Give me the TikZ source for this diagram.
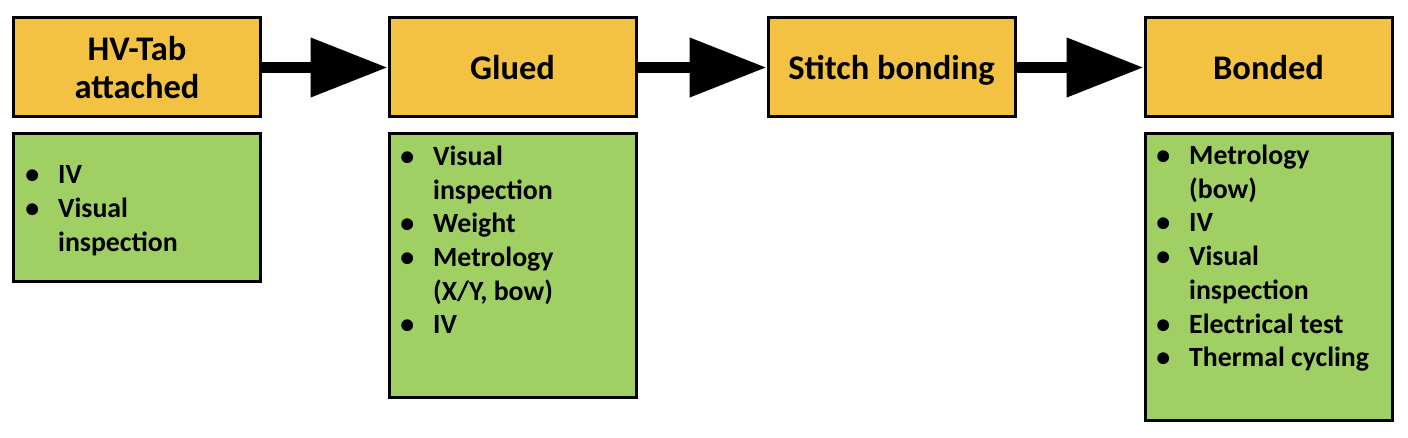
\documentclass[tikz,border=0pt]{standalone}
\usepackage{fontspec}
\setmainfont{Carlito}
\usetikzlibrary{arrows.meta}
\definecolor{gold}{RGB}{243,194,66}
\definecolor{leaf}{RGB}{160,207,99}
\newcommand{\bul}{\makebox[26pt][l]{\makebox[0pt][c]{\textbullet}}}
\newcommand{\cont}{\hspace*{26pt}}
\begin{document}
\begin{tikzpicture}[x=1pt,y=-1pt,
  stagebox/.style={draw=black, line width=3pt, fill=gold, minimum width=247pt, minimum height=99pt,
    font=\fontsize{34.5}{38}\selectfont\bfseries, inner sep=0pt,
    text height=25pt, text depth=0pt},
  testbox/.style={draw=black, line width=3pt, fill=leaf, minimum width=247pt, inner sep=0pt},
  testlist/.style={font=\fontsize{27.8}{33.7}\selectfont\bfseries, align=left, inner sep=0pt, anchor=base west},
  flow/.style={line width=11pt, -{Triangle[length=77pt,width=57pt]}}]
\useasboundingbox (0,0) rectangle (1408,438);

\node[stagebox, text height=62pt] (s1) at (137,67.5) {\begin{tabular}[b]{@{}c@{}}HV-Tab\\attached\end{tabular}};
\node[stagebox] (s2) at (512.5,67.5) {Glued};
\node[stagebox] (s3) at (891.5,67.5) {Stitch bonding};
\node[stagebox] (s4) at (1268.5,67.5) {Bonded};

\node[testbox, minimum height=148pt] (t1) at (137,208) {};
\node[testbox, minimum height=263pt] (t2) at (512.5,265.5) {};
\node[testbox, minimum height=286pt] (t4) at (1268.5,277) {};

\node[testlist] (l1) at (32,251.4) {\bul IV\\\bul Visual\\\cont inspection};
\node[testlist] (l2) at (407,334) {\bul Visual\\\cont inspection\\\bul Weight\\\bul Metrology\\\cont (X/Y, bow)\\\bul IV};
\node[testlist] (l4) at (1163,366.7) {\bul Metrology\\\cont (bow)\\\bul IV\\\bul Visual\\\cont inspection\\\bul Electrical test\\\bul Thermal cycling};

\draw[flow] (s1) -- (s2);
\draw[flow] (s2) -- (s3);
\draw[flow] (s3) -- (s4);
\end{tikzpicture}
\end{document}
